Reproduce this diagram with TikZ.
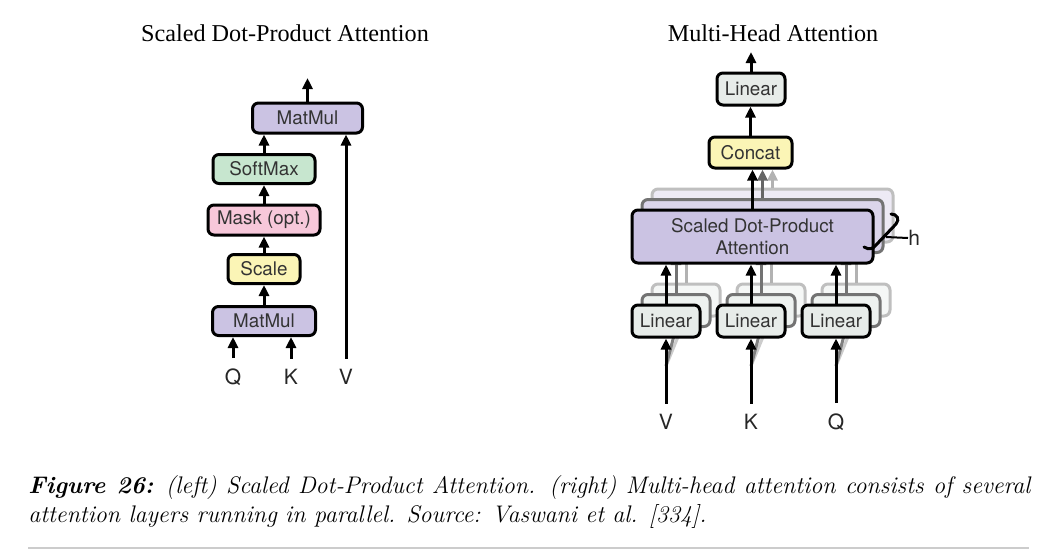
\documentclass[tikz,border=0pt]{standalone}
\usepackage{fontspec}
\setsansfont{TeX Gyre Heros}
\newfontfamily\titlefont{Liberation Serif}
\usetikzlibrary{arrows.meta,calc}
\definecolor{lav}{HTML}{CBC3E3}
\definecolor{sgreen}{HTML}{C7E6CF}
\definecolor{spink}{HTML}{F7C8DA}
\definecolor{syellow}{HTML}{FBF5B6}
\definecolor{lgray}{HTML}{E7ECE9}
\begin{document}
\begin{tikzpicture}[x=0.5pt,y=-0.5pt,
  box/.style={draw=black,line width=1.5pt,rounded corners=3pt,inner sep=0pt,
    font=\sffamily\fontsize{9.4}{11}\selectfont,text=black!80},
  arr/.style={line width=1.5pt,-{Triangle[length=5.5pt,width=5pt]}},
  lbl/.style={font=\sffamily\fontsize{10.5}{12}\selectfont,inner sep=0pt,text=black!85},
  ttl/.style={font=\titlefont\fontsize{12.1}{14}\selectfont,inner sep=0pt},
  lay2/.style={draw=black!55,fill=#1},
  lay3/.style={draw=black!25,fill=#1}]
\useasboundingbox (0,0) rectangle (1046,559);

% ---------------- left: scaled dot-product attention
\node[ttl] (t1) at (285,33) {Scaled Dot-Product Attention};
\node[box,fill=lav,minimum width=55pt,minimum height=15pt] (mm2) at (307.5,118) {MatMul};
\node[box,fill=sgreen,minimum width=51pt,minimum height=14.5pt] (sm) at (264,169) {SoftMax};
\node[box,fill=spink,minimum width=56pt,minimum height=15pt] (mask) at (264,220) {Mask (opt.)};
\node[box,fill=syellow,minimum width=36pt,minimum height=14.5pt] (scale) at (264,269) {Scale};
\node[box,fill=lav,minimum width=51.5pt,minimum height=14.5pt] (mm1) at (264,321) {MatMul};
\node[lbl] (q) at (233,377) {Q};
\node[lbl] (k) at (291,377) {K};
\node[lbl] (v) at (346,377) {V};
\coordinate (out1) at (307.5,78);
\draw[arr] (mm2.north) -- (out1);
\draw[arr] (sm.north) -- (sm.north |- mm2.south);
\draw[arr] (mask.north) -- (mask.north |- sm.south);
\draw[arr] (scale.north) -- (scale.north |- mask.south);
\draw[arr] (mm1.north) -- (mm1.north |- scale.south);
\draw[arr] ([yshift=5pt]q.north) -- (q.north |- mm1.south);
\draw[arr] ([yshift=5pt]k.north) -- (k.north |- mm1.south);
\draw[arr] ([yshift=5pt]v.north) -- (v.north |- mm2.south);

% ---------------- right: multi-head attention
\node[ttl] (t2) at (773,33) {Multi-Head Attention};
\node[box,fill=lgray,minimum width=34pt,minimum height=16pt] (lin) at (751,89) {Linear};
\node[box,fill=syellow,minimum width=41.5pt,minimum height=15.5pt] (cat) at (750.5,152.5) {Concat};
\coordinate (out2) at (751,52);
\draw[arr] (lin.north) -- (out2);
\draw[arr] (cat.north) -- (cat.north |- lin.south);

% layer 3
\node[box,lay3=lav!35,minimum width=120.5pt,minimum height=26.5pt] (sd3) at (772.5,215.5) {};
\draw[arr,black!30] (sd3.north) -- (sd3.north |- cat.south);
\foreach \n/\x in {a/686,b/771,c/856}{
  \node[box,lay3=lgray!40,minimum width=34pt,minimum height=16pt] (l3\n) at (\x,300) {};
  \draw[arr,black!30] (l3\n.north) -- (l3\n.north |- sd3.south);
}
% layer 2
\node[box,lay2=lav!70,minimum width=120.5pt,minimum height=26.5pt] (sd2) at (762.5,226) {};
\draw[arr,black!60] (sd2.north) -- (sd2.north |- cat.south);
\foreach \n/\x in {a/676,b/761,c/846}{
  \node[box,lay2=lgray!70,minimum width=34pt,minimum height=16pt] (l2\n) at (\x,310.5) {};
  \draw[arr,black!55] (l2\n.north) -- (l2\n.north |- sd2.south);
}
% front layer
\node[box,fill=lav,minimum width=120.5pt,minimum height=26.5pt,align=center] (sd1) at (752.5,236.5) {Scaled Dot-Product\\Attention};
\draw[arr] (sd1.north) -- (sd1.north |- cat.south);
\node[lbl] (vv) at (666,422) {V};
\node[lbl] (kk) at (751,422) {K};
\node[lbl] (qq) at (836,422) {Q};
\foreach \n/\x/\i in {a/666/vv,b/751/kk,c/836/qq}{
  \coordinate (s\n) at ([yshift=5pt]\i.north);
  \coordinate (m\n) at (\x,366);
  \draw[black!20,line width=1.5pt] (m\n) -- (l3\n.south);
  \draw[black!50,line width=1.5pt] (m\n) -- (l2\n.south);
  \node[box,fill=lgray,minimum width=34pt,minimum height=16pt] (l1\n) at (\x,321) {Linear};
  \draw[arr] (l1\n.north) -- (l1\n.north |- sd1.south);
  \draw[arr] (s\n) -- (s\n |- l1\n.south);
}
% brace h
\draw[line width=1.5pt,line cap=round] (891,214) .. controls (897,214) and (900,219) .. (896,224) -- (876,245) .. controls (873,249) and (869,250) .. (864,247);
\coordinate (hb) at (886,237);
\node[lbl,anchor=west] (h) at (908,238) {h};
\draw[line width=1pt] (hb) -- (h.west);

% ---------------- caption
\node[anchor=north west,inner sep=0pt,text width=501pt,align=justify,
  font=\fontsize{12}{14.5}\selectfont] (cap) at (28,473)
  {\strut\textbf{\textit{Figure 26:}} \textit{(left) Scaled Dot-Product Attention. (right) Multi-head attention consists of several attention layers running in parallel. Source: Vaswani et al. [334].}};
\coordinate (r1) at (28,548);
\coordinate (r2) at (1029,548);
\draw[black!20,line width=0.6pt] (r1) -- (r2);
\end{tikzpicture}
\end{document}
